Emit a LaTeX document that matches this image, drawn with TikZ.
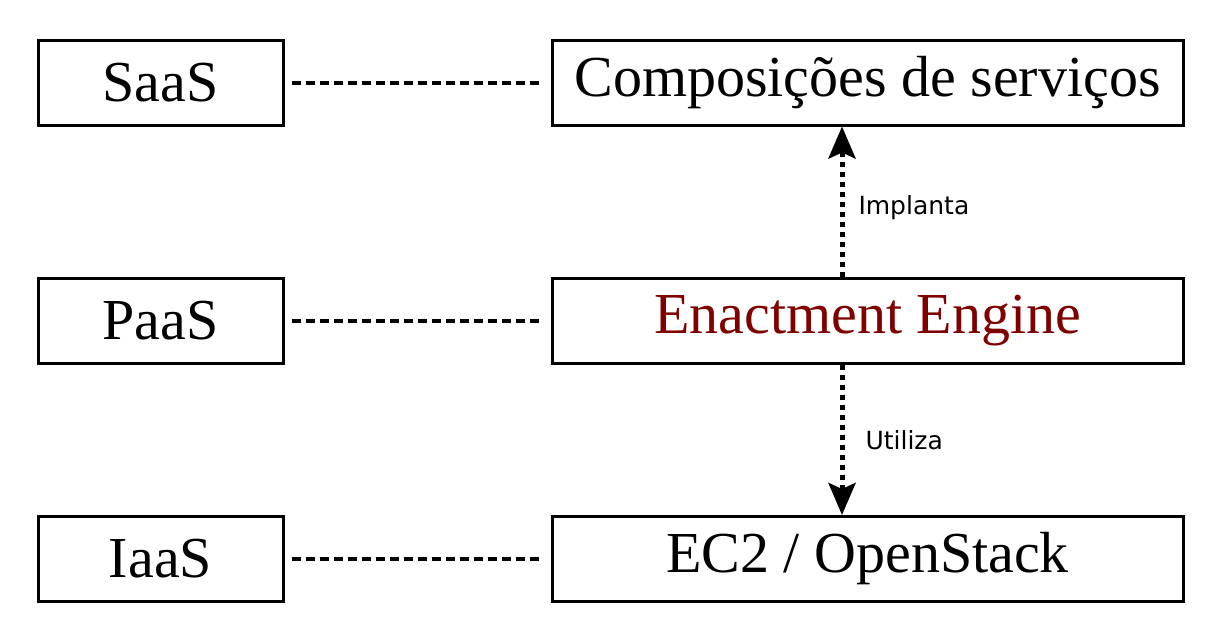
\documentclass[tikz,border=0pt]{standalone}
\usepackage{fontspec}
\setmainfont{Liberation Serif}
\newfontfamily\labfont{DejaVu Sans}
\usetikzlibrary{arrows.meta}
\definecolor{darkred}{HTML}{800000}
\begin{document}
\begin{tikzpicture}[x=1pt,y=-1pt,
  lbox/.style={draw=black,line width=3pt,minimum width=245pt,minimum height=85pt,inner sep=0pt,font=\fontsize{58}{70}\selectfont},
  rbox/.style={draw=black,line width=3pt,minimum width=631pt,minimum height=85pt,inner sep=0pt,font=\fontsize{58}{70}\selectfont},
  link/.style={line width=4pt,dash pattern=on 9pt off 5pt,shorten <=7pt,shorten >=8pt},
  arr/.style={line width=5pt,dash pattern=on 5pt off 5pt,-{Stealth[length=32pt,width=27pt,inset=6pt]}},
  lab/.style={font=\labfont\fontsize{25}{30}\selectfont,anchor=west,inner sep=0pt}]
\useasboundingbox (0,0) rectangle (1220,637);
\node[lbox] (saas) at (160.5,82.5) {SaaS};
\node[lbox] (paas) at (160.5,320.5) {PaaS};
\node[lbox] (iaas) at (160.5,559) {IaaS};
\node[rbox] (comp) at (867.5,82.5) {Composições de serviços};
\node[rbox,text=darkred] (ee) at (867.5,320.5) {Enactment Engine};
\node[rbox] (ec2) at (867.5,559) {EC2 / OpenStack};
\draw[link] (saas.east) -- (comp.west);
\draw[link] (paas.east) -- (ee.west);
\draw[link] (iaas.east) -- (ec2.west);
\draw[arr] ([xshift=-25.5pt]ee.north) -- ([xshift=-25.5pt]comp.south) node[lab,pos=0.46,xshift=14pt] (impl) {Implanta};
\draw[arr] ([xshift=-25.5pt]ee.south) -- ([xshift=-25.5pt]ec2.north) node[lab,pos=0.5,xshift=21pt] (util) {Utiliza};
\end{tikzpicture}
\end{document}
